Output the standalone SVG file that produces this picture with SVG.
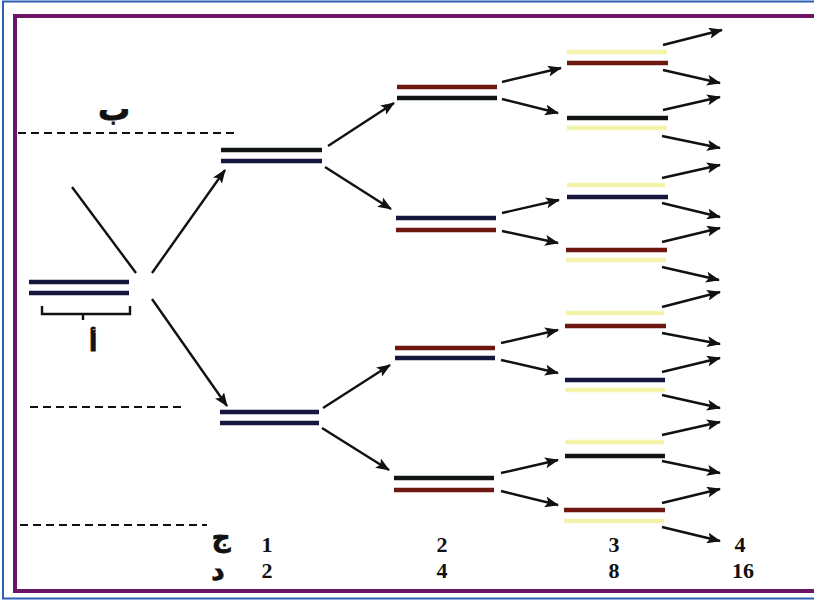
<svg xmlns="http://www.w3.org/2000/svg" width="814" height="601" viewBox="0 0 814 601">
<defs>
<marker id="ah" markerWidth="14" markerHeight="11" refX="13" refY="5.5" orient="auto" markerUnits="userSpaceOnUse">
<path d="M0,0 L14,5.5 L0,11 L3,5.5 Z" fill="#111"/>
</marker>
<style>
.bar{stroke-width:4.5;fill:none}
.nv{stroke:#16163e}
.bk{stroke:#111511}
.rd{stroke:#6e1610}
.yl{stroke:#f3f3ab}
.ln{stroke:#111;stroke-width:2.4;fill:none}
.ar{stroke:#111;stroke-width:2.4;fill:none;marker-end:url(#ah)}
.dash{stroke:#111;stroke-width:2;stroke-dasharray:8,5;fill:none}
.ar-t{font-family:"DejaVu Sans",sans-serif;font-weight:bold;fill:#111;stroke:#111;stroke-width:0.8}
.num{font-family:"Liberation Serif",serif;font-weight:bold;font-size:22px;fill:#111}
</style>
</defs>
<rect x="0" y="0" width="814" height="601" fill="#ffffff"/>
<rect id="frame-outer" x="3" y="1.5" width="820" height="597" fill="none" stroke="#2b5fb4" stroke-width="2"/>
<rect id="frame-inner" x="15" y="16" width="810" height="575" fill="none" stroke="#6c1466" stroke-width="4"/>

<g id="guides">
<line class="dash" x1="18" y1="133" x2="236" y2="133"/>
<line class="dash" x1="30" y1="407" x2="182" y2="407"/>
<line class="dash" x1="20" y1="525" x2="207" y2="525"/>
</g>

<g id="level0">
<line class="bar nv" x1="29" y1="282" x2="129" y2="282"/>
<line class="bar nv" x1="29" y1="293" x2="129" y2="293"/>
<path d="M42,306 V314 H130 V306 M83,314 V320" stroke="#111" stroke-width="2.4" fill="none"/>
<text class="ar-t" x="93" y="351" font-size="24" text-anchor="middle">أ</text>
</g>

<g id="level1">
<line class="bar bk" x1="221" y1="150" x2="322" y2="150"/>
<line class="bar nv" x1="221" y1="161" x2="322" y2="161"/>
<line class="bar nv" x1="220" y1="412" x2="319" y2="412"/>
<line class="bar nv" x1="220" y1="423" x2="319" y2="423"/>
</g>

<g id="level2">
<line class="bar rd" x1="397" y1="87" x2="497" y2="87"/>
<line class="bar bk" x1="397" y1="98" x2="497" y2="98"/>
<line class="bar nv" x1="396" y1="218" x2="496" y2="218"/>
<line class="bar rd" x1="396" y1="230" x2="496" y2="230"/>
<line class="bar rd" x1="395" y1="348" x2="495" y2="348"/>
<line class="bar nv" x1="395" y1="358" x2="495" y2="358"/>
<line class="bar bk" x1="394" y1="478" x2="494" y2="478"/>
<line class="bar rd" x1="394" y1="490" x2="494" y2="490"/>
</g>

<g id="level3">
<line class="bar yl" x1="567" y1="52" x2="667" y2="52"/>
<line class="bar rd" x1="567" y1="63" x2="668" y2="63"/>
<line class="bar bk" x1="567" y1="118" x2="668" y2="118"/>
<line class="bar yl" x1="567" y1="128" x2="667" y2="128"/>
<line class="bar yl" x1="567" y1="185" x2="665" y2="185"/>
<line class="bar nv" x1="567" y1="197" x2="668" y2="197"/>
<line class="bar rd" x1="566" y1="250" x2="667" y2="250"/>
<line class="bar yl" x1="566" y1="260" x2="666" y2="260"/>
<line class="bar yl" x1="566" y1="313" x2="664" y2="313"/>
<line class="bar rd" x1="565" y1="326" x2="666" y2="326"/>
<line class="bar nv" x1="565" y1="380" x2="665" y2="380"/>
<line class="bar yl" x1="565" y1="390" x2="665" y2="390"/>
<line class="bar yl" x1="565" y1="442" x2="664" y2="442"/>
<line class="bar bk" x1="565" y1="456" x2="665" y2="456"/>
<line class="bar rd" x1="564" y1="510" x2="665" y2="510"/>
<line class="bar yl" x1="564" y1="521" x2="664" y2="521"/>
</g>

<g id="connectors">
<line class="ln" x1="72" y1="187" x2="136" y2="273"/>
<line class="ar" x1="152" y1="273" x2="225" y2="170"/>
<line class="ar" x1="152" y1="299" x2="227" y2="406"/>

<line class="ar" x1="328" y1="146" x2="394" y2="103"/>
<line class="ar" x1="325" y1="167" x2="391" y2="209"/>
<line class="ar" x1="323" y1="408" x2="390" y2="365"/>
<line class="ar" x1="322" y1="428" x2="389" y2="470"/>

<line class="ar" x1="502" y1="82" x2="561" y2="68"/>
<line class="ar" x1="502" y1="99" x2="558" y2="113"/>
<line class="ar" x1="502" y1="213" x2="559" y2="200"/>
<line class="ar" x1="502" y1="231" x2="558" y2="243"/>
<line class="ar" x1="501" y1="343" x2="558" y2="330"/>
<line class="ar" x1="501" y1="360" x2="558" y2="373"/>
<line class="ar" x1="501" y1="473" x2="558" y2="460"/>
<line class="ar" x1="501" y1="491" x2="558" y2="505"/>

<line class="ar" x1="663" y1="45" x2="722" y2="30"/>
<line class="ar" x1="663" y1="70" x2="720" y2="83"/>
<line class="ar" x1="663" y1="110" x2="720" y2="97"/>
<line class="ar" x1="662" y1="136" x2="720" y2="148"/>
<line class="ar" x1="662" y1="178" x2="720" y2="165"/>
<line class="ar" x1="662" y1="203" x2="720" y2="217"/>
<line class="ar" x1="662" y1="242" x2="720" y2="228"/>
<line class="ar" x1="662" y1="267" x2="719" y2="280"/>
<line class="ar" x1="662" y1="307" x2="720" y2="292"/>
<line class="ar" x1="662" y1="333" x2="720" y2="344"/>
<line class="ar" x1="662" y1="372" x2="720" y2="358"/>
<line class="ar" x1="662" y1="395" x2="720" y2="408"/>
<line class="ar" x1="662" y1="435" x2="720" y2="422"/>
<line class="ar" x1="662" y1="461" x2="720" y2="473"/>
<line class="ar" x1="662" y1="503" x2="720" y2="489"/>
<line class="ar" x1="662" y1="527" x2="720" y2="541"/>
</g>

<g id="labels">
<text class="ar-t" x="114" y="120" font-size="32" text-anchor="middle">ب</text>
<text class="ar-t" x="221" y="546" font-size="26" text-anchor="middle">ج</text>
<text class="ar-t" x="218" y="580" font-size="26" text-anchor="middle">د</text>
<text class="num" x="267" y="552" text-anchor="middle">1</text>
<text class="num" x="442" y="552" text-anchor="middle">2</text>
<text class="num" x="614" y="552" text-anchor="middle">3</text>
<text class="num" x="740" y="552" text-anchor="middle">4</text>
<text class="num" x="267" y="578" text-anchor="middle">2</text>
<text class="num" x="442" y="578" text-anchor="middle">4</text>
<text class="num" x="614" y="578" text-anchor="middle">8</text>
<text class="num" x="743" y="578" text-anchor="middle">16</text>
</g>
</svg>
